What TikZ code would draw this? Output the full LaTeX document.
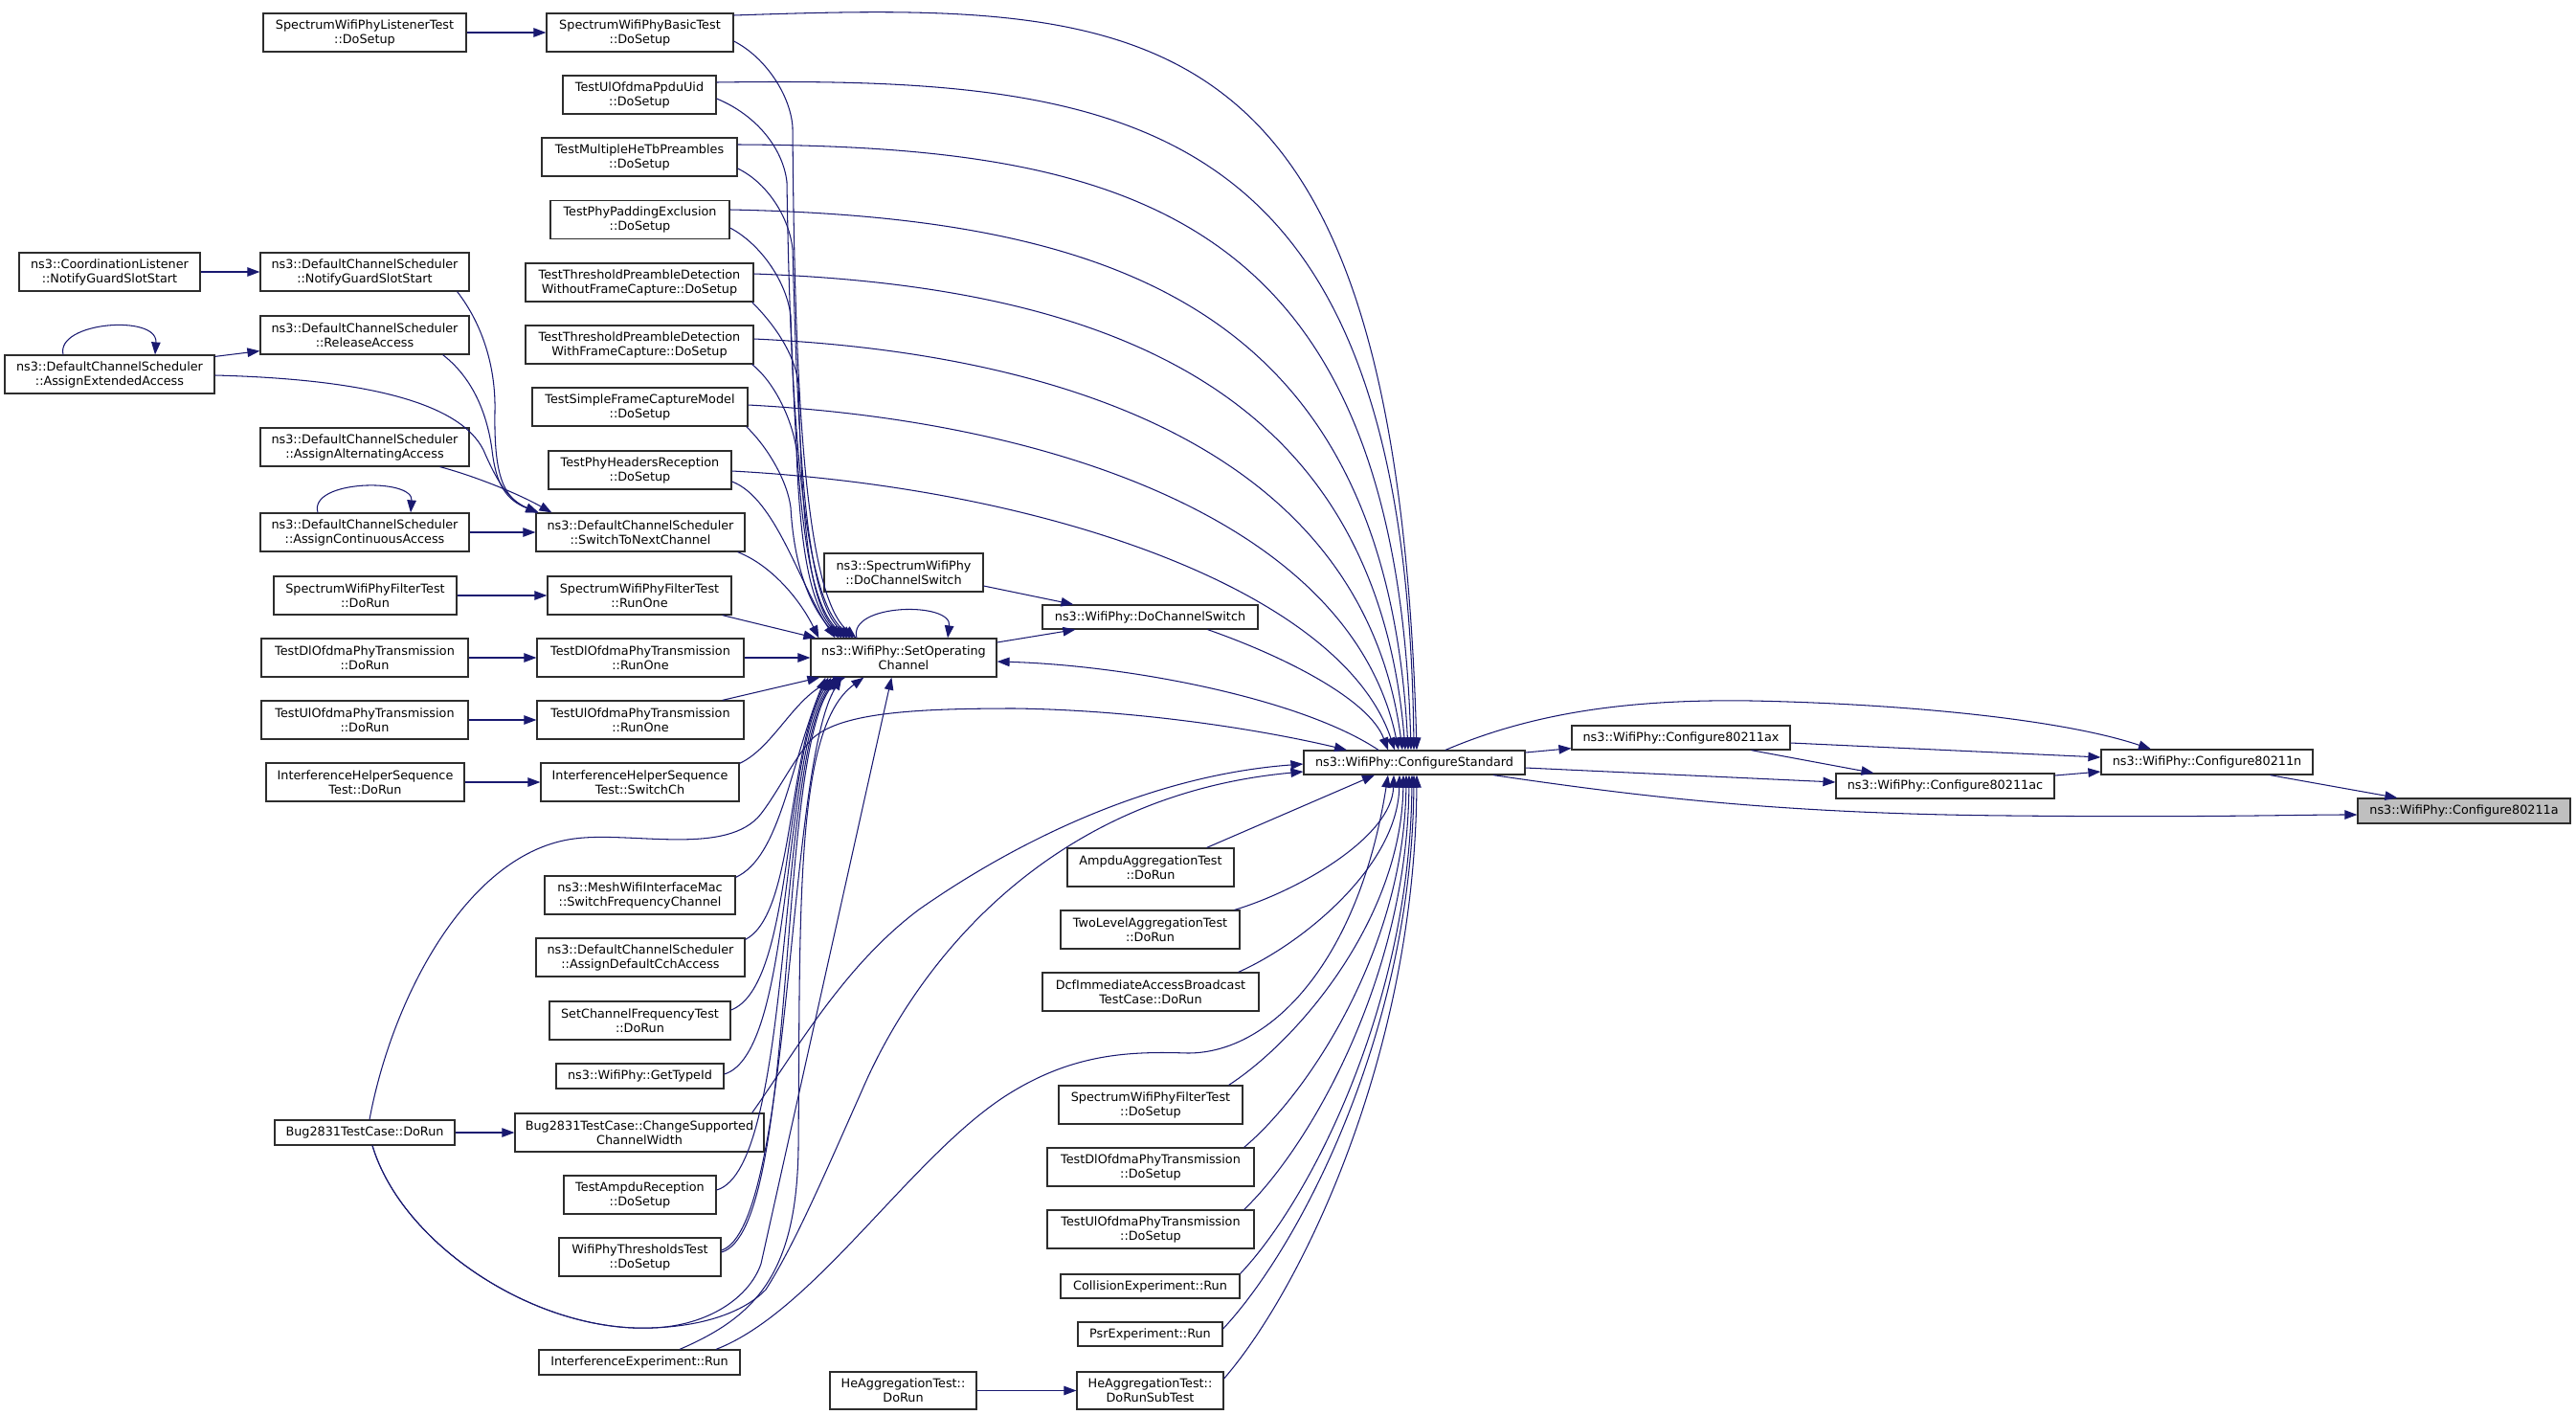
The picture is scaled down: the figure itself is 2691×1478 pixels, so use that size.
\documentclass[tikz,border=0pt]{standalone}
\usepackage{fontspec}
\setmainfont{DejaVu Sans}
\usetikzlibrary{arrows.meta}
\definecolor{mblue}{RGB}{25,25,112}
\definecolor{bord}{RGB}{45,45,45}
\definecolor{focus}{RGB}{191,191,191}
\tikzset{
  box/.style={draw=bord, line width=1.2pt, fill=white, inner sep=0pt, align=center, font=\fontsize{12.8}{15}\selectfont},
  edge/.style={draw=mblue, line width=1.05pt, -{Triangle[length=13pt,width=9.5pt]}}
}
\begin{document}
\begin{tikzpicture}[x=1pt,y=-1pt]
\useasboundingbox (0,0) rectangle (2691,1478);
% column A
\node[box, minimum width=189pt, minimum height=40pt] (cl) at (114.5,284) {ns3::CoordinationListener\\::NotifyGuardSlotStart};
\node[box, minimum width=219pt, minimum height=40pt] (aea) at (114.5,391) {ns3::DefaultChannelScheduler\\::AssignExtendedAccess};
% column B
\node[box, minimum width=212pt, minimum height=40pt] (lt) at (381,34) {SpectrumWifiPhyListenerTest\\::DoSetup};
\node[box, minimum width=218pt, minimum height=40pt] (ngs) at (381,284) {ns3::DefaultChannelScheduler\\::NotifyGuardSlotStart};
\node[box, minimum width=218pt, minimum height=40pt] (ra) at (381,350) {ns3::DefaultChannelScheduler\\::ReleaseAccess};
\node[box, minimum width=218pt, minimum height=40pt] (aaa) at (381,467) {ns3::DefaultChannelScheduler\\::AssignAlternatingAccess};
\node[box, minimum width=218pt, minimum height=40pt] (aca) at (381,556) {ns3::DefaultChannelScheduler\\::AssignContinuousAccess};
\node[box, minimum width=191pt, minimum height=40pt] (fdr) at (381.5,622) {SpectrumWifiPhyFilterTest\\::DoRun};
\node[box, minimum width=216pt, minimum height=40pt] (dldr) at (381,687) {TestDlOfdmaPhyTransmission\\::DoRun};
\node[box, minimum width=216pt, minimum height=40pt] (uldr) at (381,752) {TestUlOfdmaPhyTransmission\\::DoRun};
\node[box, minimum width=207pt, minimum height=40pt] (ihdr) at (381.5,817) {InterferenceHelperSequence\\Test::DoRun};
\node[box, minimum width=188pt, minimum height=26pt] (bdr) at (381,1183) {Bug2831TestCase::DoRun};
% column C
\node[box, minimum width=195pt, minimum height=40pt] (bt) at (668.5,34) {SpectrumWifiPhyBasicTest\\::DoSetup};
\node[box, minimum width=160pt, minimum height=40pt] (pu) at (668,99) {TestUlOfdmaPpduUid\\::DoSetup};
\node[box, minimum width=204pt, minimum height=40pt] (mh) at (668,164) {TestMultipleHeTbPreambles\\::DoSetup};
\node[box, minimum width=187pt, minimum height=40pt] (pe) at (668.5,229.5) {TestPhyPaddingExclusion\\::DoSetup};
\node[box, minimum width=238pt, minimum height=40pt] (woc) at (668,295) {TestThresholdPreambleDetection\\WithoutFrameCapture::DoSetup};
\node[box, minimum width=238pt, minimum height=40pt] (wc) at (668,360) {TestThresholdPreambleDetection\\WithFrameCapture::DoSetup};
\node[box, minimum width=225pt, minimum height=40pt] (sfc) at (668.5,425) {TestSimpleFrameCaptureModel\\::DoSetup};
\node[box, minimum width=191pt, minimum height=40pt] (phr) at (668.5,491) {TestPhyHeadersReception\\::DoSetup};
\node[box, minimum width=218pt, minimum height=40pt] (stn) at (669,556) {ns3::DefaultChannelScheduler\\::SwitchToNextChannel};
\node[box, minimum width=192pt, minimum height=40pt] (fro) at (668,622) {SpectrumWifiPhyFilterTest\\::RunOne};
\node[box, minimum width=216pt, minimum height=40pt] (dlro) at (669,687) {TestDlOfdmaPhyTransmission\\::RunOne};
\node[box, minimum width=216pt, minimum height=40pt] (ulro) at (669,752) {TestUlOfdmaPhyTransmission\\::RunOne};
\node[box, minimum width=207pt, minimum height=40pt] (sch) at (668.5,817) {InterferenceHelperSequence\\Test::SwitchCh};
\node[box, minimum width=199pt, minimum height=40pt] (mesh) at (668.5,935) {ns3::MeshWifiInterfaceMac\\::SwitchFrequencyChannel};
\node[box, minimum width=218pt, minimum height=40pt] (cch) at (669,1000) {ns3::DefaultChannelScheduler\\::AssignDefaultCchAccess};
\node[box, minimum width=189pt, minimum height=40pt] (scf) at (668.5,1066) {SetChannelFrequencyTest\\::DoRun};
\node[box, minimum width=175pt, minimum height=26pt] (gti) at (668.5,1124) {ns3::WifiPhy::GetTypeId};
\node[box, minimum width=260pt, minimum height=40pt] (csw) at (668,1183) {Bug2831TestCase::ChangeSupported\\ChannelWidth};
\node[box, minimum width=159pt, minimum height=40pt] (amr) at (668.5,1248) {TestAmpduReception\\::DoSetup};
\node[box, minimum width=169pt, minimum height=40pt] (wtt) at (668.5,1313) {WifiPhyThresholdsTest\\::DoSetup};
\node[box, minimum width=210pt, minimum height=26pt] (ier) at (668,1423) {InterferenceExperiment::Run};
% column D
\node[box, minimum width=166pt, minimum height=40pt] (sdcs) at (944,598) {ns3::SpectrumWifiPhy\\::DoChannelSwitch};
\node[box, minimum width=194pt, minimum height=40pt] (soc) at (944,687) {ns3::WifiPhy::SetOperating\\Channel};
\node[box, minimum width=153pt, minimum height=39pt] (hdr) at (943.5,1452.5) {HeAggregationTest::\\DoRun};
% column E
\node[box, minimum width=225pt, minimum height=25pt] (wdcs) at (1201.5,644.5) {ns3::WifiPhy::DoChannelSwitch};
\node[box, minimum width=174pt, minimum height=40pt] (adr) at (1202,906) {AmpduAggregationTest\\::DoRun};
\node[box, minimum width=187pt, minimum height=40pt] (tla) at (1201.5,971) {TwoLevelAggregationTest\\::DoRun};
\node[box, minimum width=226pt, minimum height=40pt] (dcf) at (1202,1036) {DcfImmediateAccessBroadcast\\TestCase::DoRun};
\node[box, minimum width=192pt, minimum height=40pt] (fds) at (1202,1154) {SpectrumWifiPhyFilterTest\\::DoSetup};
\node[box, minimum width=216pt, minimum height=40pt] (dlds) at (1202,1219) {TestDlOfdmaPhyTransmission\\::DoSetup};
\node[box, minimum width=216pt, minimum height=40pt] (ulds) at (1202,1284) {TestUlOfdmaPhyTransmission\\::DoSetup};
\node[box, minimum width=187pt, minimum height=25pt] (cer) at (1201.5,1343.5) {CollisionExperiment::Run};
\node[box, minimum width=151pt, minimum height=25pt] (per) at (1201.5,1393.5) {PsrExperiment::Run};
\node[box, minimum width=153pt, minimum height=39pt] (hst) at (1201.5,1452.5) {HeAggregationTest::\\DoRunSubTest};
% right
\node[box, minimum width=231pt, minimum height=25pt] (cs) at (1477.5,796.5) {ns3::WifiPhy::ConfigureStandard};
\node[box, minimum width=228pt, minimum height=25pt] (c11ax) at (1756,770.5) {ns3::WifiPhy::Configure80211ax};
\node[box, minimum width=228pt, minimum height=26pt] (c11ac) at (2032,821) {ns3::WifiPhy::Configure80211ac};
\node[box, minimum width=221pt, minimum height=26pt] (c11n) at (2305.5,796) {ns3::WifiPhy::Configure80211n};
\node[box, fill=focus, minimum width=222pt, minimum height=26pt] (c11a) at (2574,847) {ns3::WifiPhy::Configure80211a};

% ---------- straight edges
\draw[edge] (lt) -- (bt);
\draw[edge] (cl) -- (ngs);
\draw[edge] (aca) -- (stn);
\draw[edge] (fdr) -- (fro);
\draw[edge] (dldr) -- (dlro);
\draw[edge] (dlro) -- (soc);
\draw[edge] (uldr) -- (ulro);
\draw[edge] (ihdr) -- (sch);
\draw[edge] (bdr) -- (csw);
\draw[edge] (hdr) -- (hst);

% ---------- scheduler group
\draw[edge] ([yshift=-2pt]aea.north east) -- ([yshift=4pt]ra.south west);
\draw[edge] ([xshift=-48.5pt]aea.north) .. controls (58,336) and (165,328) .. ([xshift=47.5pt]aea.north);
\draw[edge] ([xshift=-49pt]aca.north) .. controls (322,501) and (432,499) .. ([xshift=48pt]aca.north);
\draw[edge] ([xshift=-13pt]ngs.south east) .. controls (505,340) and (518,385) .. (517,430) .. controls (516,495) and (525,520) .. ([xshift=3pt]stn.north west);
\draw[edge] ([xshift=-28pt]ra.south east) .. controls (498,398) and (510,440) .. (514,470) .. controls (518,505) and (528,522) .. ([xshift=3pt]stn.north west);
\draw[edge] ([yshift=-1pt]aea.east) .. controls (380,396) and (480,420) .. (505,470) .. controls (518,500) and (530,522) .. ([xshift=3pt]stn.north west);
\draw[edge] ([xshift=-31pt]aaa.south east) .. controls (495,497) and (540,515) .. ([xshift=17pt]stn.north west);

% ---------- into SetOperatingChannel (left)
\draw[edge] ([xshift=-8pt]stn.south east) .. controls (805,590) and (835,625) .. ([xshift=9pt]soc.north west);
\draw[edge] ([xshift=-10pt]fro.south east) -- ([xshift=6pt]soc.north west);
\draw[edge] ([xshift=-23pt]ulro.north east) -- ([xshift=10pt]soc.south west);
\draw[edge] ([yshift=-1pt]sch.north east) .. controls (810,780) and (832,722) .. ([xshift=37pt]soc.south west);

% ---------- upper tests -> SetOperatingChannel
\draw[edge] ([yshift=-9pt]bt.east) .. controls (800,60) and (826,100) .. (828,133) .. controls (830,400) and (840,620) .. ([xshift=48pt]soc.north west);
\draw[edge] ([yshift=-4pt]pu.east) .. controls (790,120) and (818,155) .. (822,190) .. controls (826,450) and (840,625) .. ([xshift=45pt]soc.north west);
\draw[edge] ([yshift=-12pt]mh.east) .. controls (800,190) and (824,225) .. (828,260) .. controls (834,480) and (842,628) .. ([xshift=42pt]soc.north west);
\draw[edge] ([yshift=-8.5pt]pe.east) .. controls (795,255) and (822,295) .. (826,330) .. controls (832,520) and (842,630) .. ([xshift=39pt]soc.north west);
\draw[edge] ([xshift=-2pt]woc.south east) .. controls (810,340) and (830,370) .. (834,400) .. controls (838,550) and (845,632) .. ([xshift=36pt]soc.north west);
\draw[edge] ([xshift=-2pt]wc.south east) .. controls (810,400) and (828,440) .. (832,470) .. controls (836,580) and (848,635) .. ([xshift=33pt]soc.north west);
\draw[edge] ([xshift=-2pt]sfc.south east) .. controls (800,465) and (822,500) .. (826,530) .. controls (830,600) and (850,638) .. ([xshift=30pt]soc.north west);
\draw[edge] ([yshift=-12pt]phr.east) .. controls (810,520) and (835,610) .. ([xshift=26pt]soc.north west);

% ---------- upper tests -> ConfigureStandard
\draw[edge] ([yshift=18pt]bt.east) .. controls (1209,1) and (1458,5) .. ([xshift=2.5pt]cs.north);
\draw[edge] ([yshift=13pt]pu.east) .. controls (1186,80) and (1469,118) .. ([xshift=-0.5pt]cs.north);
\draw[edge] ([yshift=13pt]mh.east) .. controls (1180,153) and (1458,221) .. ([xshift=-3.5pt]cs.north);
\draw[edge] ([yshift=10.5pt]pe.east) .. controls (1161,227) and (1447,319) .. ([xshift=-6.5pt]cs.north);
\draw[edge] ([yshift=9pt]woc.east) .. controls (1157,299) and (1437,407) .. ([xshift=-9.5pt]cs.north);
\draw[edge] ([yshift=6pt]wc.east) .. controls (1142,370) and (1426,487) .. ([xshift=-12.5pt]cs.north);
\draw[edge] ([yshift=2pt]sfc.east) .. controls (1124,441) and (1414,557) .. ([xshift=-16.5pt]cs.north);
\draw[edge] ([yshift=-1pt]phr.east) .. controls (1101,510) and (1402,620) .. ([xshift=-20.5pt]cs.north);

% ---------- middle
\draw[edge] ([xshift=60pt]wdcs.south) .. controls (1340,685) and (1430,730) .. ([xshift=-27.5pt]cs.north);
\draw[edge] ([xshift=-37.5pt]cs.north) .. controls (1360,730) and (1180,695) .. ([yshift=-4pt]soc.east);
\draw[edge] ([yshift=16pt]soc.east) -- ([xshift=35pt]wdcs.south west);
\draw[edge] ([yshift=-14pt]sdcs.east) -- ([xshift=33pt]wdcs.north west);
\draw[edge] ([xshift=-49pt]soc.north) .. controls (885,630) and (995,628) .. ([xshift=46pt]soc.north);

% ---------- lower tests -> SetOperatingChannel
\draw[edge] ([yshift=-2pt]mesh.north east) .. controls (815,895) and (825,800) .. ([xshift=16pt]soc.south west);
\draw[edge] ([yshift=-2pt]cch.north east) .. controls (830,955) and (822,790) .. ([xshift=19pt]soc.south west);
\draw[edge] ([yshift=11pt]scf.east) .. controls (830,1030) and (818,790) .. ([xshift=22pt]soc.south west);
\draw[edge] ([yshift=2pt]gti.east) .. controls (830,1100) and (816,790) .. ([xshift=25pt]soc.south west);
\draw[edge] ([yshift=5pt]amr.east) .. controls (830,1220) and (812,790) .. ([xshift=28pt]soc.south west);
\draw[edge] ([yshift=5pt]wtt.east) .. controls (835,1285) and (810,790) .. ([xshift=30pt]soc.south west);
\draw[edge] ([yshift=7pt]wtt.east) .. controls (828,1282) and (822,800) .. ([xshift=33pt]soc.south west);

% ---------- InterferenceExperiment
\draw[edge] ([xshift=42pt]ier.north) .. controls (790,1375) and (832,1330) .. (834,1200) .. controls (836,950) and (830,760) .. ([xshift=56pt]soc.south west);
\draw[edge] ([xshift=80pt]ier.north) .. controls (850,1370) and (950,1210) .. (1050,1145) .. controls (1120,1100) and (1180,1098) .. (1241,1100) .. controls (1330,1100) and (1420,1000) .. ([xshift=-27.5pt]cs.south);

% ---------- Bug2831
\draw[edge] ([xshift=5pt]bdr.north) .. controls (410,1040) and (490,890) .. (600,876) .. controls (660,868) and (760,895) .. (795,850) .. controls (812,828) and (828,795) .. (847,773) .. controls (875,745) and (950,740) .. (1060,740) .. controls (1200,742) and (1330,765) .. ([xshift=-70.5pt]cs.north);
\draw[edge] ([xshift=8pt]bdr.south) .. controls (420,1300) and (560,1392) .. (681,1387) .. controls (740,1385) and (783,1355) .. (795,1320) -- ([xshift=85pt]soc.south west);
\draw[edge] ([xshift=8pt]bdr.south) .. controls (420,1300) and (560,1392) .. (681,1387) .. controls (740,1385) and (780,1368) .. (800,1347) .. controls (830,1300) and (860,1230) .. (900,1140) .. controls (960,1000) and (1100,830) .. ([yshift=-9.5pt]cs.west);
\draw[edge] ([xshift=-13pt]csw.north east) .. controls (830,1100) and (880,1010) .. (960,950) .. controls (1060,880) and (1200,810) .. ([yshift=-1.5pt]cs.west);

% ---------- column E -> ConfigureStandard
\draw[edge] ([xshift=-29pt]adr.north east) -- ([xshift=-41.5pt]cs.south);
\draw[edge] ([xshift=-6pt]tla.north east) .. controls (1357.5,930) and (1454,874) .. ([xshift=-21.5pt]cs.south);
\draw[edge] ([xshift=-22pt]dcf.north east) .. controls (1362,985) and (1460,904) .. ([xshift=-15.5pt]cs.south);
\draw[edge] ([xshift=-15pt]fds.north east) .. controls (1358,1085) and (1464,958) .. ([xshift=-11.5pt]cs.south);
\draw[edge] ([xshift=-11pt]dlds.north east) .. controls (1369,1140) and (1467,988) .. ([xshift=-8.5pt]cs.south);
\draw[edge] ([xshift=-11pt]ulds.north east) .. controls (1370,1196) and (1470,1018) .. ([xshift=-5.5pt]cs.south);
\draw[edge] (cer.north east) .. controls (1369,1253) and (1473,1049) .. ([xshift=-2.5pt]cs.south);
\draw[edge] ([yshift=5.5pt]per.east) .. controls (1359,1301) and (1475,1075) .. ([xshift=-0.5pt]cs.south);
\draw[edge] ([yshift=12.5pt]hst.east) .. controls (1361,1345) and (1478,1099) .. ([xshift=2.5pt]cs.south);

% ---------- right side
\draw[edge] ([yshift=10.5pt]cs.east) -- ([yshift=2pt]c11ax.south west);
\draw[edge] ([xshift=32.5pt]cs.north) .. controls (1600,745) and (1700,730) .. (1830,732) .. controls (1980,735) and (2150,750) .. ([xshift=-58.5pt]c11n.north);
\draw[edge] ([yshift=-5.5pt]c11ax.east) -- ([yshift=5pt]c11n.west);
\draw[edge] ([xshift=188pt]c11ax.south west) -- ([xshift=40pt]c11ac.north west);
\draw[edge] ([yshift=-5.5pt]cs.east) -- ([yshift=4pt]c11ac.west);
\draw[edge] ([yshift=11pt]c11ac.east) -- ([yshift=-10pt]c11n.west);
\draw[edge] ([xshift=177pt]c11n.south west) -- ([xshift=42pt]c11a.north west);
\draw[edge] ([xshift=82.5pt]cs.south) .. controls (1700,830) and (1850,850) .. (2100,852) .. controls (2300,854) and (2400,851) .. ([yshift=-4pt]c11a.west);
\end{tikzpicture}
\end{document}
